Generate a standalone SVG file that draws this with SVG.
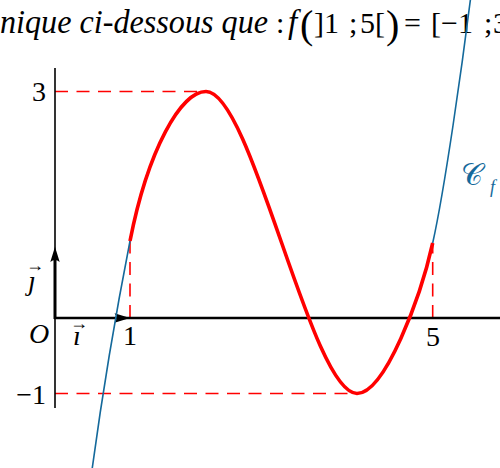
<svg xmlns="http://www.w3.org/2000/svg" width="500" height="468" viewBox="0 0 500 468">
<style>
.t{font-family:"Liberation Serif","DejaVu Serif",serif;fill:#000}
.it{font-style:italic}
.dash{stroke:#ff0000;stroke-width:1.6;stroke-dasharray:13 8.5;fill:none}
.blue{stroke:#14699b;stroke-width:1.6;fill:none}
.red{stroke:#ff0000;stroke-width:3.6;fill:none;stroke-linecap:butt}
</style>
<rect width="500" height="468" fill="#fff"/>
<g id="title">
<text class="t it" x="0" y="33" font-size="33" textLength="268" lengthAdjust="spacingAndGlyphs">nique ci-dessous que</text>
<text class="t" x="276" y="33" font-size="30">:</text>
<text class="t it" x="288" y="33" font-size="33">f</text>
<text class="t" x="300" y="38" font-size="40">(</text>
<text class="t" x="314" y="33" font-size="30">]1</text>
<text class="t" x="349" y="33" font-size="30">;</text>
<text class="t" x="360" y="33" font-size="30">5[</text>
<text class="t" x="386" y="38" font-size="40">)</text>
<text class="t" x="404" y="33" font-size="30">=</text>
<text class="t" x="431" y="33" font-size="30">[−1</text>
<text class="t" x="484" y="33" font-size="30">;</text>
<text class="t" x="493" y="33" font-size="30">3</text>
</g>
<g id="guides">
<line class="dash" x1="55" y1="91.5" x2="206" y2="91.5"/>
<line class="dash" x1="55" y1="393.5" x2="357" y2="393.5"/>
<line class="dash" x1="130" y1="318" x2="130" y2="241"/>
<line class="dash" x1="432.7" y1="318" x2="432.7" y2="243"/>
</g>
<g id="axes">
<line x1="55" y1="68" x2="55" y2="408" stroke="#000" stroke-width="1.6"/>
<line x1="54" y1="318" x2="500" y2="318" stroke="#000" stroke-width="2.6"/>
<line x1="55" y1="319" x2="55" y2="255" stroke="#000" stroke-width="3"/>
<path d="M130,318 L114.5,313.3 Q118.5,318 114.5,322.7 Z" fill="#000"/>
<path d="M55,246.7 L50.3,262 Q55,258 59.7,262 Z" fill="#000"/>
</g>
<g id="labels">
<text class="t" x="46" y="101" font-size="28" text-anchor="end">3</text>
<text class="t" x="46" y="404" font-size="28" text-anchor="end">−1</text>
<text class="t" x="130" y="345" font-size="28" text-anchor="middle">1</text>
<text class="t" x="433" y="346" font-size="28" text-anchor="middle">5</text>
<text class="t it" x="29" y="343" font-size="28">O</text>
<text class="t it" x="73" y="345" font-size="28">ı</text>
<text class="t" x="70" y="329" font-size="18">→</text>
<text class="t it" x="28" y="290" font-size="28">ȷ</text>
<text class="t" x="26" y="271" font-size="18">→</text>
</g>
<g id="curve">
<path class="blue" d="M92,470 C102,396 118,302.2 130,241"/>
<path class="blue" d="M432.7,243 C444.7,189 462,67 471,-5"/>
<path class="red" d="M130,241 C148,149.2 181,91.5 206,91.5 C252,91.5 311,393.5 357,393.5 C385,393.5 420.7,297 432.7,243"/>
</g>
<g id="curve-label">
<text x="461" y="185" font-family="'DejaVu Serif','Liberation Serif',serif" font-size="30" fill="#14699b">𝒞</text>
<text x="490" y="193" font-family="'Liberation Serif','DejaVu Serif',serif" font-style="italic" font-size="18" fill="#14699b">f</text>
</g>
</svg>
